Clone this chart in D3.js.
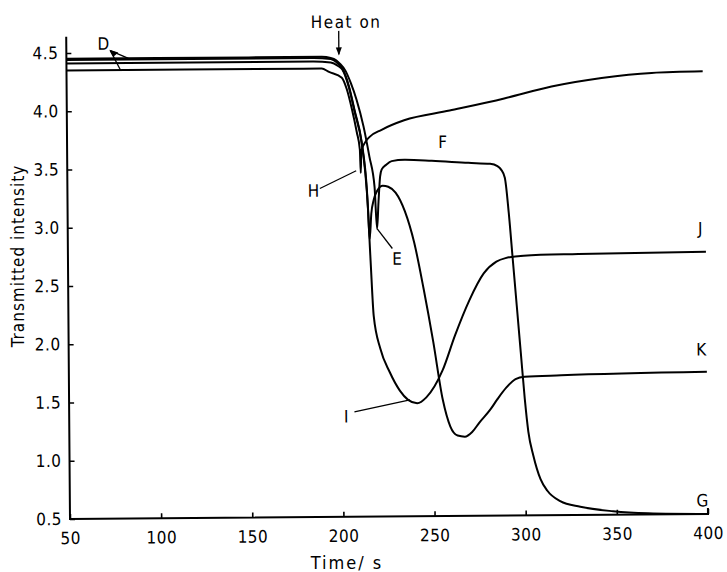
<!DOCTYPE html>
<html>
<head>
<meta charset="utf-8">
<script src="https://cdn.jsdelivr.net/npm/d3@7/dist/d3.min.js"></script>
<style>
  html, body { margin: 0; padding: 0; background: #fff; }
  svg { display: block; }
  text { font-family: "DejaVu Sans Condensed", "DejaVu Sans", sans-serif; fill: #000; }
</style>
</head>
<body>
<svg id="chart" width="727" height="572"></svg>
<script>
// Time axis (s) and transmitted intensity traces
const xTicks = [50, 100, 150, 200, 250, 300, 350, 400];
const yTicks = [0.5, 1.0, 1.5, 2.0, 2.5, 3.0, 3.5, 4.0, 4.5];

// Trace through E dip, F plateau, falling to G
const timeFG = [50, 150, 190, 195, 198, 200, 203, 206, 209, 212.7, 215.8, 218.5, 219.7, 220.6, 221.6, 222.5, 225, 228, 235, 250, 270, 282, 286, 288, 290, 292, 294, 296, 298, 300, 301.8, 304.5, 308.3, 312, 319, 330, 348, 367, 400];
const valFG  = [4.45, 4.45, 4.45, 4.44, 4.42, 4.39, 4.33, 4.22, 4.08, 3.85, 3.59, 3.33, 2.97, 3.2, 3.42, 3.48, 3.52, 3.55, 3.56, 3.55, 3.53, 3.52, 3.5, 3.47, 3.4, 3.1, 2.7, 2.3, 1.9, 1.5, 1.22, 1.01, 0.81, 0.71, 0.62, 0.57, 0.53, 0.51, 0.5];

// Trace falling to the minimum near 265 s and levelling at K
const timeK = [50, 185, 195, 199, 201.3, 204.8, 208, 211.6, 213.5, 214.8, 215.6, 216.6, 218, 220, 223, 226, 230, 235, 240, 245, 250, 255, 259, 263, 267, 271, 275, 281, 285, 290, 295, 300, 320, 400];
const valK  = [4.41, 4.41, 4.40, 4.37, 4.34, 4.19, 3.97, 3.71, 3.45, 3.15, 2.88, 3.1, 3.22, 3.3, 3.34, 3.33, 3.28, 3.12, 2.85, 2.45, 2.0, 1.5, 1.27, 1.19, 1.18, 1.22, 1.3, 1.41, 1.5, 1.6, 1.67, 1.69, 1.70, 1.72];

// Trace through the I minimum, levelling at J
const timeIJ = [50, 185, 195, 199, 201.3, 204.8, 208, 211.6, 214.3, 216, 217.5, 221, 226, 231.5, 236, 241, 246, 255, 262, 270, 278, 285, 290, 300, 330, 400];
const valIJ  = [4.44, 4.44, 4.43, 4.39, 4.35, 4.2, 3.98, 3.72, 3.3, 2.7, 2.22, 1.94, 1.74, 1.58, 1.5, 1.47, 1.52, 1.75, 2.05, 2.35, 2.58, 2.68, 2.71, 2.73, 2.74, 2.75];

// Trace with the small H dip, recovering towards the starting level
const timeH = [50, 180, 190, 194, 201, 203.7, 206.4, 209, 210.6, 211, 211.4, 213, 216, 222.6, 235, 260, 290, 316, 343.5, 371, 399];
const valH  = [4.35, 4.35, 4.35, 4.32, 4.27, 4.17, 4.0, 3.8, 3.65, 3.45, 3.64, 3.7, 3.76, 3.82, 3.9, 3.98, 4.08, 4.18, 4.25, 4.29, 4.30];

const series = [
  { t: timeFG, v: valFG },
  { t: timeK,  v: valK },
  { t: timeIJ, v: valIJ },
  { t: timeH,  v: valH }
];

const svg = d3.select("#chart");
svg.append("rect").attr("width", 727).attr("height", 572).attr("fill", "#fff");

const x = d3.scaleLinear().domain([50, 400]).range([70, 708]);
const y = d3.scaleLinear().domain([0.5, 4.5]).range([519, 53]);

// the whole plate sits at a slight tilt
const g = svg.append("g").attr("transform", "rotate(-0.45, 70, 519)");

// axes
const xAxis = d3.axisBottom(x).tickValues(xTicks).tickSize(-5).tickPadding(13)
  .tickFormat(d3.format("d"));
const yAxis = d3.axisLeft(y).tickValues(yTicks).tickSize(-5).tickPadding(8)
  .tickFormat(d3.format(".1f"));

const gx = g.append("g").attr("transform", "translate(0,519)").call(xAxis);
const gy = g.append("g").attr("transform", "translate(70,0)").call(yAxis);
gx.select(".domain").remove();
gy.select(".domain").remove();
[gx, gy].forEach(a => {
  a.selectAll(".tick line").attr("stroke", "#000").attr("stroke-width", 1.6);
  a.selectAll(".tick text").attr("font-size", 17).attr("fill", "#000")
    .attr("letter-spacing", 0.5);
});
gx.selectAll(".tick text").attr("dy", "0.71em");

g.append("path")
  .attr("d", `M70,${y(4.64)}V519H708V513`)
  .attr("fill", "none").attr("stroke", "#000").attr("stroke-width", 2);

// curves
const line = d3.line().x(d => x(d[0])).y(d => y(d[1])).curve(d3.curveMonotoneX);
series.forEach(s => {
  const pts = s.t.map((t, i) => [t, s.v[i]]);
  g.append("path").datum(pts)
    .attr("d", line)
    .attr("fill", "none").attr("stroke", "#000").attr("stroke-width", 2)
    .attr("stroke-linejoin", "round");
});

// annotations
const lab = (tx, ty, s, anchor) => g.append("text").attr("x", tx).attr("y", ty)
  .attr("font-size", 17).attr("text-anchor", anchor || "middle").text(s);
const lead = (x1, y1, x2, y2) => g.append("line")
  .attr("x1", x1).attr("y1", y1).attr("x2", x2).attr("y2", y2)
  .attr("stroke", "#000").attr("stroke-width", 1.3);

lab(350, 30, "Heat on").attr("letter-spacing", 1.5);
lead(x(199.5), 33, x(199.5), y(4.47));
g.append("path").attr("d", `M${x(199.5) - 3},${y(4.53)}L${x(199.5) + 3},${y(4.53)}L${x(199.5)},${y(4.46)}Z`);

lab(107, 50, "D");
lead(114, 51, 132, y(4.45));
lead(114, 51, 124, y(4.35));
g.append("path").attr("d", "M113,50L122,53L117,57Z");

lab(x(256), y(3.66), "F");
lab(x(230.6), y(2.66), "E");
lead(x(219.8), y(2.97), x(228), y(2.8));
lab(x(185), y(3.25), "H");
lead(x(188.5), y(3.32), x(208.5), y(3.47));
lab(x(202), y(1.31), "I");
lead(x(206.5), y(1.4), x(237), y(1.5));
lab(x(397), y(2.9), "J");
lab(x(397), y(1.86), "K");
lab(x(397), y(0.565), "G");

// axis titles
svg.append("text").attr("x", 347).attr("y", 569).attr("font-size", 18)
  .attr("letter-spacing", 2).attr("text-anchor", "middle").text("Time/ s");
svg.append("text").attr("transform", "translate(24,256) rotate(-90)")
  .attr("font-size", 17).attr("letter-spacing", 1).attr("text-anchor", "middle").text("Transmitted intensity");
</script>
</body>
</html>
